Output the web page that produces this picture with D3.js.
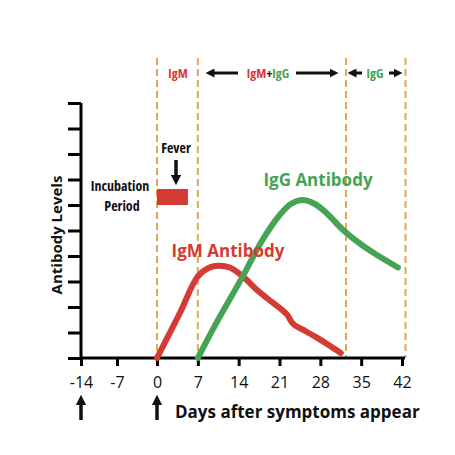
<!DOCTYPE html><html><head><meta charset="utf-8">
<script src="https://cdn.jsdelivr.net/npm/d3@7"></script>
<style>body{margin:0;background:#fff}text{font-family:"Open Sans",sans-serif}</style></head><body>
<script>
const xTicks=[-14,-7,0,7,14,21,28,35,42];
const yTicks=[0,1,2,3,4,5,6,7,8,9,10];
const igmDays=[0,2,4,7,9,10.5,12.5,14.7,17,19.4,21.1,22.3,23.3,25.5,27.4,29.5,31.5];
const igmLevels=[0,0.9,1.8,3.2,3.55,3.62,3.55,3.2,2.7,2.25,1.95,1.7,1.35,1.05,0.8,0.5,0.2];
const iggDays=[7,10,14.7,18,21,23,25,27,29,32,35,38,41.3];
const iggLevels=[0,1.3,3.2,4.6,5.6,6.05,6.2,6.05,5.7,5.0,4.45,4.0,3.55];
const dashedDays=[0,7,32.4,42.6];
const red="#d43b34",green="#46a354",orange="#e6a84e";
const svg=d3.select("body").append("svg").attr("width",455).attr("height",455);
const x=d3.scaleLinear().domain([-14,-7,0,42]).range([81,117,157,402]);
const y=d3.scaleLinear().domain([0,10]).range([358,103]);
svg.selectAll(".dl").data(dashedDays).join("line").attr("x1",d=>x(d)).attr("x2",d=>x(d))
 .attr("y1",58).attr("y2",358).attr("stroke",orange).attr("stroke-width",2).attr("stroke-dasharray","7,4");
const xa=svg.append("g").attr("transform","translate(0,358)").call(d3.axisBottom(x).tickValues(xTicks).tickFormat(d=>String(d)).tickSize(8).tickSizeOuter(0));
xa.select(".domain").attr("stroke-width",3).attr("d","M81,0H405");
xa.selectAll(".tick line").attr("stroke-width",3);
xa.selectAll(".tick text").attr("font-size",16).attr("dy","1.2em").attr("fill","#111");
const ya=svg.append("g").attr("transform","translate(81,0)").call(d3.axisLeft(y).tickValues(yTicks).tickSize(13).tickFormat(""));
ya.select(".domain").attr("stroke-width",3).attr("d","M0,358V103");
ya.selectAll(".tick line").attr("stroke-width",3);
const line=(xs,ys)=>d3.line().curve(d3.curveCatmullRom)(xs.map((d,i)=>[x(d),y(ys[i])]));
svg.append("path").attr("d",line(igmDays,igmLevels)).attr("fill","none").attr("stroke",red).attr("stroke-width",6).attr("stroke-linecap","round");
svg.append("path").attr("d",line(iggDays,iggLevels)).attr("fill","none").attr("stroke",green).attr("stroke-width",6).attr("stroke-linecap","round");
svg.append("rect").attr("x",x(0)).attr("y",189).attr("width",x(5.3)-x(0)).attr("height",16).attr("fill",red);
const bold=(t,xx,yy,c,fs,anchor)=>svg.append("text").text(t).attr("x",xx).attr("y",yy).attr("fill",c).attr("font-size",fs).attr("font-weight","bold").attr("text-anchor",anchor||"middle").attr("font-stretch","condensed");
bold("Incubation",120,191,"#111",14);bold("Period",122,211,"#111",14);
bold("Fever",176,153,"#111",14);
svg.append("defs").html(`<marker id="ah" viewBox="0 0 10 10" refX="5" refY="5" markerWidth="3" markerHeight="3" orient="auto"><path d="M0,0L10,5L0,10z" fill="#111"/></marker>`);
const arrow=(x1,y1,x2,y2,w)=>svg.append("line").attr("x1",x1).attr("y1",y1).attr("x2",x2).attr("y2",y2).attr("stroke","#111").attr("stroke-width",w||3.5).attr("marker-end","url(#ah)");
arrow(176,160,176,180);
bold("IgG Antibody",318,186,green,17).attr("font-stretch",null);
bold("IgM Antibody",228,257,red,17).attr("font-stretch",null);
svg.append("text").text("Antibody Levels").attr("transform","translate(62,235) rotate(-90)").attr("text-anchor","middle").attr("font-size",15).attr("font-weight","bold").attr("fill","#111");
bold("Days after symptoms appear",175,418,"#111",17,"start").attr("font-stretch",null);
arrow(81,420,81,400);arrow(157,420,157,400);
bold("IgM",178,78,red,13);
const t=svg.append("text").attr("x",268).attr("y",78).attr("text-anchor","middle").attr("font-size",13).attr("font-weight","bold").attr("font-stretch","condensed");
t.append("tspan").text("IgM").attr("fill",red);t.append("tspan").text("+").attr("fill","#111");t.append("tspan").text("IgG").attr("fill",green);
arrow(238,73,210,73,3);arrow(296,73,334,73,3);
bold("IgG",375,78,green,13);
arrow(362,73,352,73,3);arrow(389,73,398,73,3);
</script></body></html>
